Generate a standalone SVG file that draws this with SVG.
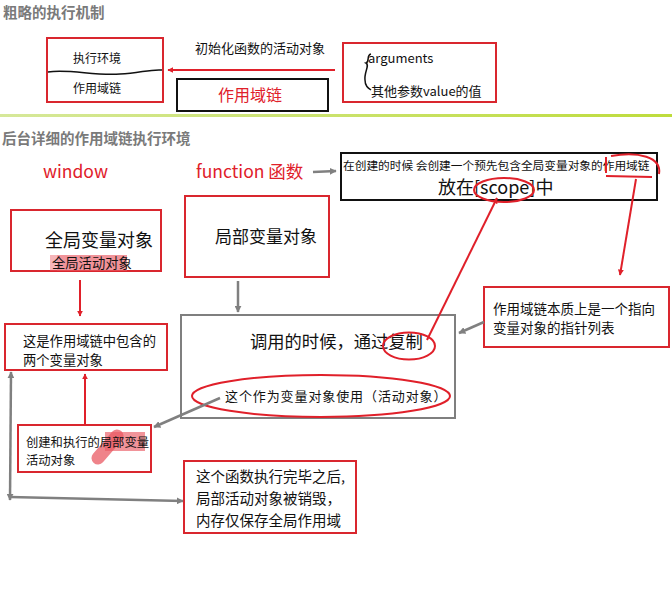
<svg xmlns="http://www.w3.org/2000/svg" width="672" height="589" viewBox="0 0 672 589">
<defs>
<linearGradient id="sep" x1="0" y1="0" x2="1" y2="0">
<stop offset="0" stop-color="#d6e89a"/>
<stop offset="1" stop-color="#bedc3c"/>
</linearGradient>
<marker id="ar" viewBox="0 0 10 10" refX="9" refY="5" markerWidth="6" markerHeight="6" orient="auto-start-reverse" markerUnits="userSpaceOnUse">
<path d="M0,0 L10,5 L0,10 z" fill="#e0202a"/>
</marker>
<marker id="ag" viewBox="0 0 10 10" refX="9" refY="5" markerWidth="7" markerHeight="7" orient="auto-start-reverse" markerUnits="userSpaceOnUse">
<path d="M0,0 L10,5 L0,10 z" fill="#808080"/>
</marker>
</defs>
<style>
text{font-family:"Noto Sans CJK SC","Noto Sans",sans-serif;fill:#111}
.h{font-weight:bold;fill:#7a7a7a;font-size:14.5px}
.rb{fill:#fff;stroke:#d9262e;stroke-width:2}
.kb{fill:#fff;stroke:#111;stroke-width:2}
.gb{fill:#fff;stroke:#7f7f7f;stroke-width:2}
.rl{fill:none;stroke:#e0202a;stroke-width:2}
.gl{fill:none;stroke:#808080;stroke-width:2.5}
.red{fill:#e0202a}
.s12{font-size:12px}
.s13{font-size:13px}
.s14{font-size:14.5px}
.s16{font-size:16px}
.hl{fill:#ea5a64;opacity:0.65}
</style>
<rect width="672" height="589" fill="#fff"/>
<text x="3" y="18" class="h">粗略的执行机制</text>
<rect x="0" y="114" width="672" height="3" fill="url(#sep)"/>
<text x="2" y="144" class="h">后台详细的作用域链执行环境</text>

<g id="exec-env">
<rect x="47" y="38" width="116" height="64" class="rb"/>
<path d="M48,72 C70,69 95,76 120,74 C140,73 150,69 162,70" fill="none" stroke="#111" stroke-width="1.5"/>
<text x="73" y="63" class="s12">执行环境</text>
<text x="73" y="93" class="s12">作用域链</text>
</g>
<g id="scope-chain-box">
<rect x="177" y="79" width="151" height="32" class="kb"/>
<text x="250" y="101" class="s16 red" text-anchor="middle">作用域链</text>
</g>
<g id="arguments-box">
<rect x="343" y="43" width="153" height="59" class="rb"/>
<path d="M371,54 C366,55 370,62 366,63 C370,65 364,72 365,80 C365,86 368,88 371,90" fill="none" stroke="#111" stroke-width="1.5"/>
<text x="368" y="63" class="s13">arguments</text>
<text x="371" y="96" class="s13">其他参数value的值</text>
</g>
<text x="195" y="53" class="s13">初始化函数的活动对象</text>

<text x="43" y="178" class="red" font-size="17.5">window</text>
<text x="196" y="178" class="red" font-size="17.5">function 函数</text>

<g id="create-box">
<rect x="341" y="153" width="316" height="47" class="kb"/>
<text x="343" y="170" font-size="11.7">在创建的时候 会创建一个预先包含全局变量对象的作用域链</text>
<text x="438" y="194" font-size="18">放在[scope]中</text>
<ellipse cx="504" cy="190" rx="30" ry="12" class="rl"/>
<path d="M606,157 L606,173 M606,176 L652,177 M611,156 C638,151 662,157 659,174" class="rl"/>
</g>
<g id="global-var">
<rect x="11" y="210" width="150" height="61" class="rb"/>
<text x="45" y="247" font-size="18">全局变量对象</text>
<rect x="57" y="255" width="70" height="16" class="hl"/>
<rect x="50" y="255" width="7" height="16" fill="#ea5a64" opacity="0.45"/>
<text x="52" y="268" font-size="13.3">全局活动对象</text>
</g>
<g id="local-var">
<rect x="185" y="196" width="144" height="81" class="rb"/>
<text x="215" y="243" font-size="17">局部变量对象</text>
</g>
<g id="pointer-list">
<rect x="484" y="287" width="185" height="60" class="rb"/>
<text x="493" y="314" font-size="13.5">作用域链本质上是一个指向</text>
<text x="493" y="333" font-size="13.5">变量对象的指针列表</text>
</g>
<g id="call-box">
<rect x="181" y="315" width="274" height="103" class="gb"/>
<text x="250" y="348" font-size="17.3">调用的时候，通过复制</text>
<ellipse cx="409" cy="346" rx="26" ry="13.5" class="rl"/>
<text x="225" y="401" font-size="13" letter-spacing="0.9">这个作为变量对象使用（活动对象）</text>
<ellipse cx="321" cy="396" rx="129" ry="21" class="rl"/>
</g>
<g id="two-objects">
<rect x="5" y="324" width="162" height="46" class="rb"/>
<text x="23" y="346" font-size="13.3">这是作用域链中包含的</text>
<text x="23" y="365" font-size="13.3">两个变量对象</text>
</g>
<g id="local-active">
<rect x="18" y="425" width="133" height="47" class="rb"/>
<rect x="105" y="432" width="40" height="19" class="hl"/>
<line x1="98" y1="458" x2="117" y2="436" stroke="#ea5a64" stroke-width="13" stroke-linecap="round" opacity="0.75"/>
<text x="26" y="447" font-size="12.3">创建和执行的局部变量</text>
<text x="26" y="465" font-size="12.3">活动对象</text>
</g>
<g id="destroyed">
<rect x="184" y="461" width="172" height="72" class="rb"/>
<text x="196" y="482" class="s14">这个函数执行完毕之后,</text>
<text x="196" y="504" class="s14">局部活动对象被销毁，</text>
<text x="196" y="526" class="s14">内存仅保存全局作用域</text>
</g>

<g id="connectors">
<line x1="335" y1="70" x2="168" y2="70" class="rl" marker-end="url(#ar)"/>
<line x1="313" y1="172" x2="336" y2="171" class="gl" marker-end="url(#ag)"/>
<line x1="636" y1="179" x2="620" y2="275" class="rl" marker-end="url(#ar)"/>
<line x1="484" y1="322" x2="459" y2="333" class="gl" marker-end="url(#ag)"/>
<line x1="80" y1="280" x2="80" y2="316" class="rl" marker-end="url(#ar)"/>
<line x1="238" y1="281" x2="238" y2="312" class="gl" marker-end="url(#ag)"/>
<line x1="427" y1="340" x2="497" y2="198" class="rl" marker-end="url(#ar)"/>
<line x1="220" y1="398" x2="154" y2="427" class="gl" marker-end="url(#ag)"/>
<line x1="85" y1="425" x2="85" y2="374" class="rl" marker-end="url(#ar)"/>
<line x1="11" y1="372" x2="10" y2="500" class="gl" marker-start="url(#ag)" marker-end="url(#ag)"/>
<line x1="10" y1="497" x2="183" y2="501" class="gl" marker-end="url(#ag)"/>
</g>
</svg>
